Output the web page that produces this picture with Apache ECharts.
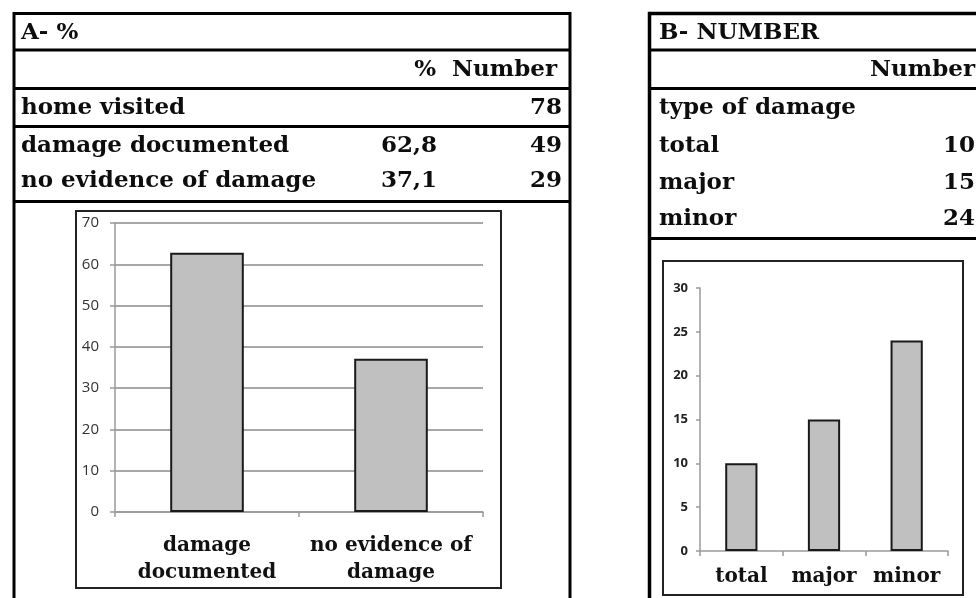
<!DOCTYPE html>
<html>
<head>
<meta charset="utf-8">
<script src="https://cdn.jsdelivr.net/npm/echarts@6/dist/echarts.min.js"></script>
<style>
  html, body { margin: 0; padding: 0; background: #fff; }
  #chart { width: 976px; height: 598px; }
</style>
</head>
<body>
<div id="chart"></div>
<script>
// ---- Data ----
const titleA = 'A- %';
const titleB = 'B- NUMBER';
const headerPct = '%';
const headerNum = 'Number';
const homeVisitedLabel = 'home visited';
const homeVisited = 78;
const catsA = ['damage documented', 'no evidence of damage'];
const xLabelsA = ['damage\ndocumented', 'no evidence of\ndamage'];
const pctA = [62.8, 37.1];
const numA = [49, 29];
const typeLabelB = 'type of damage';
const catsB = ['total', 'major', 'minor'];
const numB = [10, 15, 24];
const yTicksA = { min: 0, max: 70, interval: 10 };
const yTicksB = { min: 0, max: 30, interval: 5 };

// ---- Rendering ----
const chart = echarts.init(document.getElementById('chart'));
const SERIF = '"DejaVu Serif", "Liberation Serif", serif';
const TFONT = 'bold 23px ' + SERIF;
const TCOL = '#0d0d0d';

function txt(text, x, y, align) {
  return { type: 'text', z: 10, style: { text: String(text), x: x, y: y, font: TFONT, fill: TCOL, textAlign: align || 'left', textVerticalAlign: 'middle' } };
}
function hline(x1, x2, y, w) {
  return { type: 'line', z: 5, shape: { x1: x1, y1: y, x2: x2, y2: y }, style: { stroke: '#000', lineWidth: w || 3 } };
}
function fmtPct(v) { return v.toFixed(1).replace('.', ','); }

const graphics = [];
// Panel A frame
graphics.push({ type: 'rect', z: 5, shape: { x: 14, y: 13.5, width: 556, height: 620 }, style: { fill: 'none', stroke: '#000', lineWidth: 3 } });
graphics.push(hline(14, 570, 50));
graphics.push(hline(14, 570, 88.5));
graphics.push(hline(14, 570, 126.5));
graphics.push(hline(14, 570, 201.5));
// Panel A texts
graphics.push(txt(titleA, 21, 33));
graphics.push(txt(headerPct, 436, 70, 'right'));
graphics.push(txt(headerNum, 557, 70, 'right'));
graphics.push(txt(homeVisitedLabel, 21, 108));
graphics.push(txt(homeVisited, 562, 108, 'right'));
const rowYA = [146, 181];
catsA.forEach(function (c, i) {
  graphics.push(txt(c, 21, rowYA[i]));
  graphics.push(txt(fmtPct(pctA[i]), 437, rowYA[i], 'right'));
  graphics.push(txt(numA[i], 562, rowYA[i], 'right'));
});
// Chart A box
graphics.push({ type: 'rect', z: 5, shape: { x: 76, y: 211, width: 425, height: 377 }, style: { fill: 'none', stroke: '#222', lineWidth: 2 } });

// Panel B frame
graphics.push({ type: 'rect', z: 5, shape: { x: 649.5, y: 13.5, width: 400, height: 620 }, style: { fill: 'none', stroke: '#000', lineWidth: 3.5 } });
graphics.push(hline(649.5, 1000, 50));
graphics.push(hline(649.5, 1000, 88.5));
graphics.push(hline(649.5, 1000, 238.5));
// Panel B texts
graphics.push(txt(titleB, 659, 33));
graphics.push(txt(headerNum, 975, 70, 'right'));
graphics.push(txt(typeLabelB, 659, 108));
const rowYB = [146, 183, 219];
catsB.forEach(function (c, i) {
  graphics.push(txt(c, 659, rowYB[i]));
  graphics.push(txt(numB[i], 975, rowYB[i], 'right'));
});
// Chart B box
graphics.push({ type: 'rect', z: 5, shape: { x: 663, y: 261, width: 300, height: 334 }, style: { fill: 'none', stroke: '#222', lineWidth: 2 } });

const axisGray = '#9a9a9a';
const option = {
  animation: false,
  backgroundColor: '#fff',
  grid: [
    { left: 115, top: 223, width: 368, height: 289 },
    { left: 700, top: 288, width: 248, height: 263 }
  ],
  xAxis: [
    {
      type: 'category', gridIndex: 0, data: catsA,
      axisLine: { show: true, lineStyle: { color: axisGray, width: 1.5 } },
      axisTick: { show: true, length: 5, lineStyle: { color: axisGray, width: 1.5 } },
      axisLabel: {
        formatter: function (v, i) { return xLabelsA[i]; },
        fontFamily: SERIF, fontWeight: 'bold', fontSize: 20, color: '#111',
        lineHeight: 27, margin: 20, interval: 0
      }
    },
    {
      type: 'category', gridIndex: 1, data: catsB,
      axisLine: { show: true, lineStyle: { color: axisGray, width: 1.5 } },
      axisTick: { show: true, length: 5, lineStyle: { color: axisGray, width: 1.5 } },
      axisLabel: { fontFamily: SERIF, fontWeight: 'bold', fontSize: 20, color: '#111', margin: 16, interval: 0 }
    }
  ],
  yAxis: [
    {
      type: 'value', gridIndex: 0, min: yTicksA.min, max: yTicksA.max, interval: yTicksA.interval,
      axisLine: { show: true, lineStyle: { color: axisGray, width: 1.5 } },
      axisTick: { show: true, length: 5, lineStyle: { color: axisGray, width: 1.5 } },
      splitLine: { show: true, lineStyle: { color: '#a8a8a8', width: 2 } },
      axisLabel: { fontFamily: '"Open Sans", sans-serif', fontSize: 15, color: '#333', margin: 16 }
    },
    {
      type: 'value', gridIndex: 1, min: yTicksB.min, max: yTicksB.max, interval: yTicksB.interval,
      axisLine: { show: true, lineStyle: { color: axisGray, width: 1.5 } },
      axisTick: { show: true, length: 4, lineStyle: { color: axisGray, width: 1.5 } },
      splitLine: { show: false },
      axisLabel: { fontFamily: '"Open Sans", sans-serif', fontWeight: 'bold', fontSize: 13, color: '#222', margin: 12 }
    }
  ],
  series: [
    {
      type: 'bar', xAxisIndex: 0, yAxisIndex: 0, data: pctA, barWidth: '40%',
      itemStyle: { color: '#c0c0c0', borderColor: '#1a1a1a', borderWidth: 2 }
    },
    {
      type: 'bar', xAxisIndex: 1, yAxisIndex: 1, data: numB, barWidth: '39%',
      itemStyle: { color: '#c0c0c0', borderColor: '#1a1a1a', borderWidth: 2 }
    }
  ],
  graphic: graphics
};
chart.setOption(option);
</script>
</body>
</html>
